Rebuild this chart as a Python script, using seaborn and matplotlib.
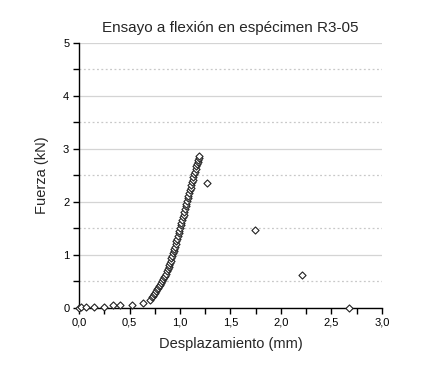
import matplotlib
matplotlib.use("Agg")
import matplotlib.pyplot as plt
import seaborn as sns
import pandas as pd
from matplotlib.ticker import MultipleLocator, FuncFormatter

title = "Ensayo a flexión en espécimen R3-05"
xlabel = "Desplazamiento (mm)"
ylabel = "Fuerza (kN)"

# low-load start region
x_start = [0.00, 0.02, 0.07, 0.15, 0.25, 0.34, 0.41, 0.52, 0.63, 0.70]
y_start = [0.00, 0.02, 0.01, 0.01, 0.02, 0.05, 0.06, 0.06, 0.10, 0.15]

# dense loading curve
x_curve = [0.720, 0.735, 0.745, 0.755, 0.765, 0.775, 0.785, 0.795, 0.805, 0.815,
           0.825, 0.835, 0.845, 0.855, 0.865, 0.872, 0.880, 0.887, 0.895, 0.902,
           0.909, 0.916, 0.923, 0.930, 0.937, 0.944, 0.951, 0.958, 0.965, 0.972,
           0.979, 0.986, 0.993, 1.000, 1.007, 1.014, 1.021, 1.028, 1.035, 1.042,
           1.049, 1.056, 1.063, 1.070, 1.077, 1.084, 1.091, 1.098, 1.105, 1.112,
           1.119, 1.126, 1.133, 1.140, 1.147, 1.154, 1.161, 1.168, 1.174, 1.180,
           1.185, 1.190]
y_curve = [0.20, 0.23, 0.26, 0.29, 0.32, 0.35, 0.38, 0.41, 0.44, 0.47,
           0.50, 0.54, 0.58, 0.61, 0.65, 0.69, 0.73, 0.77, 0.81, 0.85,
           0.89, 0.94, 0.98, 1.03, 1.07, 1.12, 1.16, 1.21, 1.26, 1.31,
           1.36, 1.41, 1.46, 1.51, 1.56, 1.61, 1.66, 1.71, 1.76, 1.81,
           1.87, 1.92, 1.97, 2.02, 2.07, 2.12, 2.17, 2.22, 2.27, 2.32,
           2.37, 2.42, 2.47, 2.52, 2.57, 2.62, 2.67, 2.71, 2.75, 2.79,
           2.83, 2.86]

# post-failure points
x_post = [1.27, 1.74, 2.21, 2.67]
y_post = [2.35, 1.47, 0.62, 0.00]

df = pd.DataFrame({
    "x": x_start + x_curve + x_post,
    "y": y_start + y_curve + y_post,
})

sns.set_style("white")
plt.rcParams["font.family"] = ["Liberation Sans", "DejaVu Sans"]

fig = plt.figure(figsize=(4.44, 3.70), dpi=100)
ax = fig.add_axes([0.178, 0.1676, 0.682, 0.7162])

sns.scatterplot(data=df, x="x", y="y", marker="D", s=13, facecolor="white",
                edgecolor="#222222", linewidth=0.8, ax=ax, zorder=3, clip_on=False)

ax.set_xlim(0, 3.0)
ax.set_ylim(0, 5)
ax.xaxis.set_major_locator(MultipleLocator(0.5))
ax.xaxis.set_minor_locator(MultipleLocator(0.25))
ax.yaxis.set_major_locator(MultipleLocator(1))
ax.yaxis.set_minor_locator(MultipleLocator(0.5))
ax.xaxis.set_major_formatter(FuncFormatter(lambda v, p: f"{v:.1f}".replace(".", ",")))
ax.yaxis.set_major_formatter(FuncFormatter(lambda v, p: f"{v:.0f}"))

ax.grid(True, which="major", axis="y", color="#d4d4d4", linewidth=0.9, linestyle="-")
ax.grid(True, which="minor", axis="y", color="#c8c8c8", linewidth=0.9, linestyle=(0, (1.5, 2)))
ax.set_axisbelow(True)

for s in ["top", "right"]:
    ax.spines[s].set_visible(False)
for s in ["left", "bottom"]:
    ax.spines[s].set_color("black")
    ax.spines[s].set_linewidth(1.0)

ax.tick_params(which="both", direction="out", length=4, width=1, colors="black",
               labelsize=8, left=True, bottom=True, pad=3)
ax.tick_params(which="minor", length=4)

ax.set_xlabel(xlabel, fontsize=10.5, labelpad=7)
ax.set_ylabel(ylabel, fontsize=10.5, labelpad=10)
ax.set_title(title, fontsize=11, pad=8)

fig.savefig("out.png", dpi=100)
